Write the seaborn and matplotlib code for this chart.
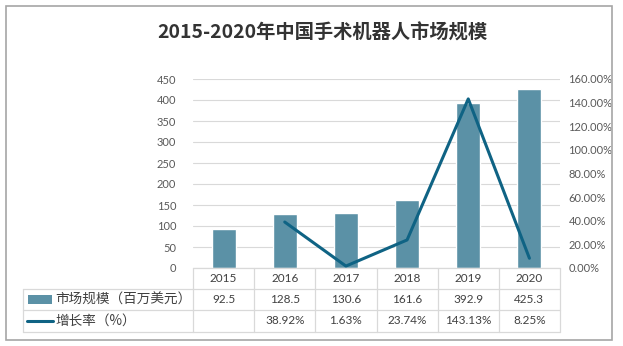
import numpy as np
import pandas as pd
import matplotlib
matplotlib.use("Agg")
import matplotlib.pyplot as plt
from matplotlib.lines import Line2D
from matplotlib.patches import Rectangle
import seaborn as sns

years = ["2015", "2016", "2017", "2018", "2019", "2020"]
market = [92.5, 128.5, 130.6, 161.6, 392.9, 425.3]
growth = [None, 38.92, 1.63, 23.74, 143.13, 8.25]
market_labels = ["92.5", "128.5", "130.6", "161.6", "392.9", "425.3"]
growth_labels = ["", "38.92%", "1.63%", "23.74%", "143.13%", "8.25%"]
series_names = ["市场规模（百万美元）", "增长率（%）"]
title = "2015-2020年中国手术机器人市场规模"
left_ticks = [0, 50, 100, 150, 200, 250, 300, 350, 400, 450]
right_ticks = [0, 20, 40, 60, 80, 100, 120, 140, 160]

sns.set_theme(style="white")
plt.rcParams['font.family'] = ['Lato', 'Noto Sans CJK SC', 'DejaVu Sans']

BAR = "#5b91a6"
LINE = "#0f6384"
GRID = "#d9d9d9"
TXT = "#595959"

W, H = 623, 346
fig = plt.figure(figsize=(W / 100, H / 100), dpi=100)

def fx(px):
    return px / W

def fy(py):
    return 1 - py / H

# outer border
fig.add_artist(Rectangle((fx(6), fy(340)), fx(612) - fx(6), fy(6) - fy(340),
                         transform=fig.transFigure, fill=False,
                         edgecolor="#a6a6a6", lw=1.2))

ax_l, ax_r, ax_b, ax_t = 193, 560, 268, 79
ax = fig.add_axes([fx(ax_l), fy(ax_b), fx(ax_r) - fx(ax_l), fy(ax_t) - fy(ax_b)])

df = pd.DataFrame({"year": years, "market": market, "pos": np.arange(len(years))})
sns.barplot(data=df, x="pos", y="market", color=BAR, width=0.39,
            saturation=1, ax=ax, native_scale=True)
ax.set_xlim(-0.5, len(years) - 0.5)
ax.set_ylim(0, 450)
ax.set_yticks(left_ticks)
ax.set_yticklabels([str(v) for v in left_ticks], color=TXT, fontsize=8)
ax.set_xticks([])
ax.set_xlabel("")
ax.set_ylabel("")
ax.yaxis.grid(True, color=GRID, lw=0.8)
ax.set_axisbelow(True)
for s in ax.spines.values():
    s.set_visible(False)
ax.tick_params(axis="y", length=0, pad=12)

ax2 = ax.twinx()
gdf = pd.DataFrame({"pos": np.arange(1, len(years)), "growth": growth[1:]})
sns.lineplot(data=gdf, x="pos", y="growth", color=LINE, lw=2.2, ax=ax2)
ax2.set_ylim(0, 160)
ax2.set_yticks(right_ticks)
ax2.set_yticklabels([f"{v:.2f}%" for v in right_ticks], color=TXT, fontsize=8)
ax2.set_xlim(-0.5, len(years) - 0.5)
ax2.set_ylabel("")
ax2.set_xlabel("")
for s in ax2.spines.values():
    s.set_visible(False)
ax2.tick_params(axis="y", length=0, pad=6)

# data table
col_w = (ax_r - ax_l) / len(years)
rows = [268, 289, 310, 332]
tleft = 23

def hline(y, x0, x1):
    fig.add_artist(Line2D([fx(x0), fx(x1)], [fy(y), fy(y)], transform=fig.transFigure,
                          color=GRID, lw=0.9))

def vline(x, y0, y1):
    fig.add_artist(Line2D([fx(x), fx(x)], [fy(y0), fy(y1)], transform=fig.transFigure,
                          color=GRID, lw=0.9))

hline(rows[0], ax_l, ax_r)
for y in rows[1:]:
    hline(y, tleft, ax_r)
for i in range(len(years) + 1):
    vline(ax_l + i * col_w, rows[0], rows[3])
vline(tleft, rows[1], rows[3])

for i, yr in enumerate(years):
    cx = ax_l + (i + 0.5) * col_w
    fig.text(fx(cx), fy((rows[0] + rows[1]) / 2), yr, ha="center", va="center",
             fontsize=8.5, color="#404040")
    fig.text(fx(cx), fy((rows[1] + rows[2]) / 2), market_labels[i], ha="center", va="center",
             fontsize=8.5, color="#404040")
    fig.text(fx(cx), fy((rows[2] + rows[3]) / 2), growth_labels[i], ha="center", va="center",
             fontsize=8.5, color="#404040")

# legend keys
ym1 = (rows[1] + rows[2]) / 2
ym2 = (rows[2] + rows[3]) / 2
fig.add_artist(Rectangle((fx(28), fy(ym1 + 4)), fx(52) - fx(28), fy(ym1 - 4) - fy(ym1 + 4),
                         transform=fig.transFigure, color=BAR, lw=0))
fig.add_artist(Line2D([fx(27), fx(53)], [fy(ym2), fy(ym2)], transform=fig.transFigure,
                      color=LINE, lw=2.2))
fig.text(fx(55), fy(ym1), series_names[0], ha="left", va="center", fontsize=9.8,
         color="#404040", family=['Noto Sans CJK SC'])
fig.text(fx(55), fy(ym2), series_names[1], ha="left", va="center", fontsize=9.8,
         color="#404040", family=['Noto Sans CJK SC'])

fig.text(fx(322), fy(33), title, ha="center", va="center", fontsize=13.9,
         fontweight="bold", color="#333333", family=['Noto Sans CJK SC'])

fig.savefig("out.png", dpi=100)
